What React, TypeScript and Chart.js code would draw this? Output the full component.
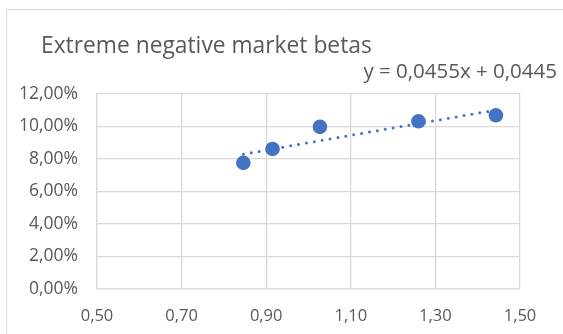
import React, { useEffect, useRef } from "react";
import { Chart, registerables } from "chart.js";

Chart.register(...registerables);

// Portfolio betas (x) and average returns (y)
const betas = [0.846, 0.915, 1.027, 1.26, 1.443];
const returns = [0.0776, 0.0862, 0.0998, 0.1032, 0.1069];

// Linear trend fitted to the points
const trendSlope = 0.0455;
const trendIntercept = 0.0445;

const titleText = "Extreme negative market betas";
const equationText = "y = 0,0455x + 0,0445";

const xTicks = [0.5, 0.7, 0.9, 1.1, 1.3, 1.5];
const yTicks = [0, 0.02, 0.04, 0.06, 0.08, 0.1, 0.12];

const FONT = "'Open Sans', 'Noto Sans', sans-serif";
const TEXT_COLOR = "#595959";
const GRID_COLOR = "#D9D9D9";
const MARK_COLOR = "#4472C4";

const fmtComma = (v: number, digits: number) => v.toFixed(digits).replace(".", ",");

const frame = {
  id: "frameAndHeadings",
  beforeDraw(chart: Chart) {
    const ctx = chart.ctx;
    ctx.save();
    ctx.fillStyle = "#ffffff";
    ctx.fillRect(0, 0, chart.width, chart.height);
    ctx.strokeStyle = GRID_COLOR;
    ctx.lineWidth = 1;
    ctx.beginPath();
    ctx.moveTo(6.5, chart.height + 2);
    ctx.lineTo(6.5, 9.5);
    ctx.lineTo(chart.width + 2, 9.5);
    ctx.stroke();
    ctx.restore();
  },
  afterDraw(chart: Chart) {
    const ctx = chart.ctx;
    ctx.save();
    ctx.fillStyle = TEXT_COLOR;
    ctx.textBaseline = "alphabetic";
    ctx.textAlign = "left";
    ctx.font = `22.8px ${FONT}`;
    ctx.fillText(titleText, 41, 53);
    ctx.textAlign = "right";
    ctx.font = `20.5px ${FONT}`;
    ctx.fillText(equationText, 557, 78);
    ctx.restore();
  },
};

export default function App() {
  const ref = useRef<HTMLCanvasElement | null>(null);

  useEffect(() => {
    if (!ref.current) return;
    const xMin = betas[0];
    const xMax = betas[betas.length - 1];
    const trend = [
      { x: xMin, y: trendSlope * xMin + trendIntercept },
      { x: xMax, y: trendSlope * xMax + trendIntercept },
    ];
    const chart = new Chart(ref.current, {
      type: "scatter",
      data: {
        datasets: [
          {
            label: "Trend",
            data: trend,
            showLine: true,
            borderColor: MARK_COLOR,
            borderWidth: 3,
            borderDash: [0, 8],
            borderCapStyle: "round",
            pointRadius: 0,
            fill: false,
          },
          {
            label: "Returns",
            data: betas.map((b, i) => ({ x: b, y: returns[i] })),
            backgroundColor: MARK_COLOR,
            borderColor: MARK_COLOR,
            pointRadius: 7.3,
            pointBorderWidth: 0,
          },
        ],
      },
      options: {
        responsive: false,
        animation: false,
        layout: { padding: { left: 0, top: 94, right: 43, bottom: 0 } },
        plugins: {
          legend: { display: false },
          title: { display: false },
          tooltip: { enabled: false },
        },
        scales: {
          x: {
            type: "linear",
            min: 0.5,
            max: 1.5,
            afterBuildTicks: (s: any) => {
              s.ticks = xTicks.map((v) => ({ value: v }));
            },
            afterFit: (s: any) => {
              s.height = 45;
            },
            ticks: {
              color: TEXT_COLOR,
              font: { family: FONT, size: 16.5 },
              padding: 17,
              maxRotation: 0,
              callback: (v: any) => fmtComma(Number(v), 2),
            },
            grid: { color: GRID_COLOR, lineWidth: 1.3, drawTicks: false },
            border: { color: GRID_COLOR, width: 1.3 },
          },
          y: {
            type: "linear",
            min: 0,
            max: 0.12,
            afterBuildTicks: (s: any) => {
              s.ticks = yTicks.map((v) => ({ value: v }));
            },
            afterFit: (s: any) => {
              s.width = 97;
            },
            ticks: {
              color: TEXT_COLOR,
              font: { family: FONT, size: 17.5 },
              padding: 19,
              callback: (v: any) => fmtComma(Number(v) * 100, 2) + "%",
            },
            grid: { color: GRID_COLOR, lineWidth: 1.3, drawTicks: false },
            border: { color: GRID_COLOR, width: 1.3 },
          },
        },
      },
      plugins: [frame],
    });
    return () => chart.destroy();
  }, []);

  return (
    <div style={{ position: "fixed", left: 0, top: 0, width: 563, height: 334, background: "#fff" }}>
      <canvas ref={ref} width={563} height={334} style={{ display: "block" }} />
    </div>
  );
}
